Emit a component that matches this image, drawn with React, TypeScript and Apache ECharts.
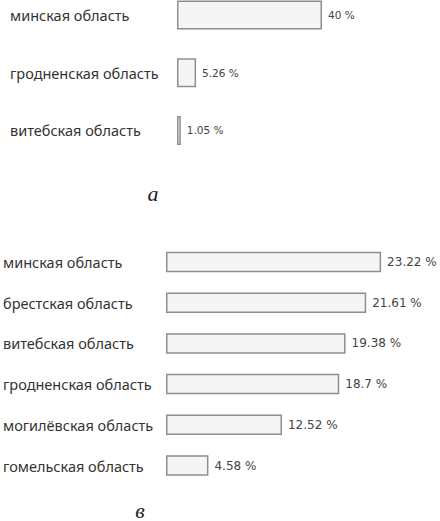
import React, { useEffect, useRef } from "react";
import * as echarts from "echarts";

const catsA = ["минская область", "гродненская область", "витебская область"];
const valsA = [40, 5.26, 1.05];
const catsB = [
  "минская область",
  "брестская область",
  "витебская область",
  "гродненская область",
  "могилёвская область",
  "гомельская область",
];
const valsB = [23.22, 21.61, 19.38, 18.7, 12.52, 4.58];
const captions = ["а", "в"];

export default function App() {
  const ref = useRef<HTMLDivElement>(null);
  useEffect(() => {
    if (!ref.current) return;
    const chart = echarts.init(ref.current, null, { renderer: "svg" });
    const catLabel = {
      align: "left" as const,
      fontFamily: "Noto Sans",
      fontSize: 14.5,
      color: "#333",
    };
    const barStyle = {
      color: "#f5f5f5",
      borderColor: "#8e8e8e",
      borderWidth: 1.5,
    };
    chart.setOption({
      animation: false,
      backgroundColor: "#fff",
      grid: [
        { left: 177, top: 15, width: 217.5, height: 115.4 },
        { left: 163, top: 241.65, width: 262.4, height: 244.2 },
      ],
      xAxis: [
        { type: "value", gridIndex: 0, min: 0, max: 60, show: false },
        { type: "value", gridIndex: 1, min: 0, max: 28, show: false },
      ],
      yAxis: [
        {
          type: "category",
          gridIndex: 0,
          data: catsA,
          inverse: true,
          boundaryGap: false,
          axisLine: { show: false },
          axisTick: { show: false },
          splitLine: { show: false },
          axisLabel: { ...catLabel, margin: 167 },
        },
        {
          type: "category",
          gridIndex: 1,
          data: catsB,
          inverse: true,
          axisLine: { show: false },
          axisTick: { show: false },
          splitLine: { show: false },
          axisLabel: { ...catLabel, margin: 163 },
        },
      ],
      series: [
        {
          type: "bar",
          xAxisIndex: 0,
          yAxisIndex: 0,
          data: valsA,
          barWidth: 29,
          itemStyle: barStyle,
          label: {
            show: true,
            position: "right",
            distance: 6,
            formatter: "{c} %",
            fontFamily: "DejaVu Sans",
            fontSize: 10.5,
            color: "#444",
          },
        },
        {
          type: "bar",
          xAxisIndex: 1,
          yAxisIndex: 1,
          data: valsB,
          barWidth: 20.5,
          itemStyle: barStyle,
          label: {
            show: true,
            position: "right",
            distance: 6,
            formatter: "{c} %",
            fontFamily: "DejaVu Sans",
            fontSize: 12,
            color: "#444",
          },
        },
      ],
      graphic: [
        {
          type: "text",
          x: 153,
          y: 193,
          style: {
            text: captions[0],
            font: "italic 22px 'Liberation Serif'",
            fill: "#222",
            textAlign: "center",
            textVerticalAlign: "middle",
          },
        },
        {
          type: "text",
          x: 140,
          y: 510,
          style: {
            text: captions[1],
            font: "italic 22px 'Liberation Serif'",
            fill: "#222",
            textAlign: "center",
            textVerticalAlign: "middle",
          },
        },
      ],
    });
    return () => chart.dispose();
  }, []);
  return (
    <div
      ref={ref}
      style={{ position: "fixed", left: 0, top: 0, width: 440, height: 521, background: "#fff" }}
    />
  );
}
